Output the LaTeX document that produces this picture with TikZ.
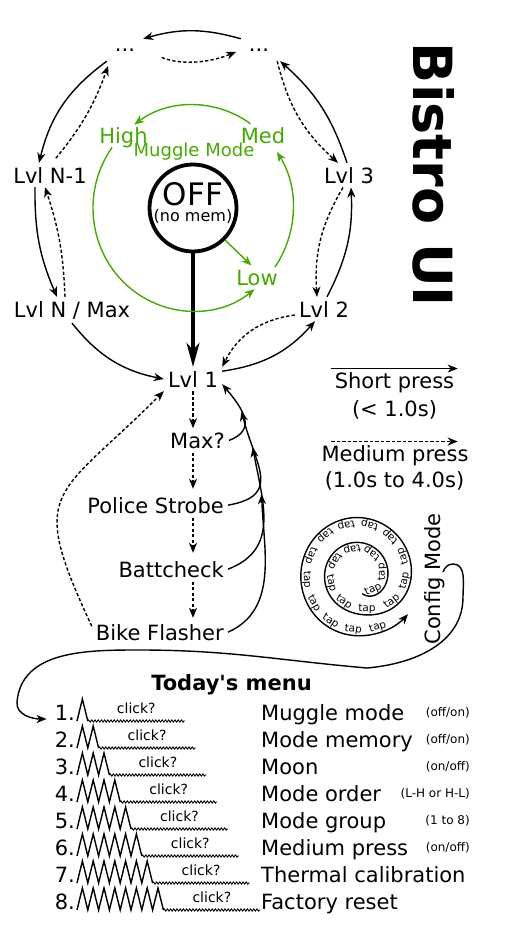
\documentclass[tikz,border=0pt]{standalone}
\usepackage{fontspec}
\setmainfont{DejaVu Sans}
\usetikzlibrary{arrows.meta,decorations.pathmorphing}
\definecolor{muggle}{HTML}{44AA00}

\begin{document}
\begin{tikzpicture}[x=1pt,y=1pt,
  every node/.style={font=\fontsize{21}{25}\selectfont},
  lvl/.style={anchor=base, inner sep=4pt},
  dots/.style={minimum width=36pt, minimum height=22pt, inner sep=0pt},
  mug/.style={anchor=base, inner sep=4pt, text=muggle},
  shortpress/.style={line width=1.4pt, -{Stealth[length=10pt,width=8pt,inset=3pt]}},
  medpress/.style={shortpress, dash pattern=on 3.3pt off 2.2pt},
  muglink/.style={shortpress, draw=muggle},
  small/.style={font=\fontsize{12}{14}\selectfont},
  declare function={spr(\t)=32+0.005*\t-14*exp(-min((\t+74)/35,9))+22/(1+exp(-max(min((\t-310)/22,9),-9)))+6/(1+exp(-max(min((\t-665)/12,9),-9)));}]
\useasboundingbox (0,0) rectangle (518,-931);

\node[rotate=-90, anchor=base, font=\bfseries\fontsize{54}{60}\selectfont] (title) at (413,-175) {Bistro UI};

\node[dots] (dotsL) at (125,-50) {...};
\node[dots] (dotsR) at (259,-50) {...};
\node[lvl] (lvlN1) at (50,-183) {Lvl N-1};
\node[lvl] (lvl3) at (349,-183) {Lvl 3};
\node[lvl] (lvlNmax) at (72,-317) {Lvl N / Max};
\node[lvl] (lvl2) at (324,-317) {Lvl 2};
\node[lvl] (lvl1) at (193,-387) {Lvl 1};

\draw[shortpress] (dotsR.north west) to[bend right=16] (dotsL.north east);
\draw[medpress, shorten <=20pt, shorten >=5pt] (dotsL.east) to[bend right=22] (dotsR.west);
\draw[shortpress] (dotsL.south west) to[bend right=20] ([xshift=-11pt]lvlN1.north);
\draw[medpress, shorten <=6pt, shorten >=5pt] ([xshift=2pt]lvlN1.north) to[bend right=10] ([xshift=3pt]dotsL.south west);
\draw[medpress] (dotsR.south east) to[bend right=17] ([xshift=-11pt]lvl3.north);
\draw[shortpress] ([xshift=-2pt]lvl3.north) to[bend right=15] ([xshift=3pt]dotsR.south east);
\draw[shortpress] ([xshift=-15pt]lvlN1.south) to[bend right=12] ([xshift=-15pt]lvlNmax.north);
\draw[medpress] ([xshift=-7pt]lvlNmax.north) to[bend right=8] ([xshift=-5pt]lvlN1.south);
\draw[medpress] ([xshift=-6pt]lvl3.south) to[bend right=17] ([xshift=-7pt]lvl2.north);
\draw[shortpress] ([xshift=3pt]lvl2.north) to[bend right=15] ([xshift=2pt]lvl3.south);
\draw[shortpress] (lvlNmax.south) to[bend right=20] (lvl1.west);
\draw[shortpress] (lvl1.15) to[bend right=20] ([xshift=-9pt]lvl2.south);
\draw[medpress] ([yshift=-6pt]lvl2.west) to[bend right=28] (lvl1.north east);

\node[draw, circle, line width=3.8pt, minimum size=87pt, inner sep=0pt] (off) at (193,-208) {};
\node[anchor=base, inner sep=0pt, font=\fontsize{31}{35}\selectfont] (offtxt) at ([yshift=2.5pt]off.center) {OFF};
\node[anchor=base, inner sep=0pt, font=\fontsize{16}{18}\selectfont] (offnote) at ([yshift=-13pt]off.center) {(no mem)};
\draw[line width=3.2pt, -{Stealth[length=24pt,width=13pt,inset=7pt]}] (off.south) -- (lvl1.north);

\node[mug] (high) at (123.5,-143) {High};
\node[mug] (med) at (263,-143) {Med};
\node[mug] (low) at (257,-285) {Low};
\node[mug, font=\fontsize{18}{20}\selectfont] (mugmode) at (194,-157) {Muggle Mode};
\draw[muglink] ([shift={(55:100 and 103)}]off.center) arc[start angle=55, end angle=126, x radius=100, y radius=103];
\draw[muglink] ([shift={(144:100 and 103)}]off.center) arc[start angle=144, end angle=308, x radius=100, y radius=103];
\draw[muglink] ([shift={(-35:100 and 103)}]off.center) arc[start angle=-35, end angle=33, x radius=100, y radius=103];
\draw[muglink] (off.-45) -- (low.115);

\node[lvl, anchor=base east] (maxq) at (229,-448) {Max?};
\node[lvl, anchor=base east] (police) at (228,-513) {Police Strobe};
\node[lvl, anchor=base east] (batt) at (228,-577) {Battcheck};
\node[lvl, anchor=base east] (bike) at (228,-640) {Bike Flasher};
\draw[medpress] (lvl1.south) -- (lvl1.south |- maxq.north);
\draw[medpress, shorten >=4pt] (maxq.south -| lvl1) -- (lvl1 |- police.north);
\draw[medpress, shorten >=4pt] (police.south -| lvl1) -- (lvl1 |- batt.north);
\draw[medpress, shorten >=2pt] (batt.south -| lvl1) -- (lvl1 |- bike.north);
\draw[shortpress] (maxq.east) to[out=20, in=-50, looseness=1.4] coordinate[pos=0.6] (onmax) (lvl1.-10);
\draw[shortpress] (police.east) to[out=10, in=-76, looseness=1.5] coordinate[pos=0.75] (onpolice) (onmax);
\draw[shortpress] (batt.east) to[out=21, in=-80, looseness=1.15] coordinate[pos=0.7] (onbatt) (onpolice);
\draw[shortpress] (bike.east) to[out=24, in=-88] (onbatt);
\draw[medpress] ([yshift=6pt]bike.west) to[out=115, in=-135, looseness=1.6] (lvl1.south west);

\node[anchor=base] (shortlbl) at (394.5,-388) {Short press};
\node[anchor=base] (shortdur) at (394.5,-416) {(< 1.0s)};
\node[anchor=base] (medlbl) at (395,-461) {Medium press};
\node[anchor=base] (meddur) at (394.5,-487) {(1.0s to 4.0s)};
\draw[shortpress] (shortlbl.north west) -- (shortlbl.north east);
\draw[medpress] (shortlbl.north west |- medlbl.north) -- (shortlbl.north east |- medlbl.north);

\begin{scope}[shift={(357.5,-576)}]
\draw[shortpress] plot[domain=-74:684, samples=220] ({spr(\x)*cos(\x)}, {1.04*spr(\x)*sin(\x)});
\foreach \th in {-45,8,56,102,148,194,240,284,323,354,382,409,436,463,490,517,544,571,598,625,652} {
  \pgfmathsetmacro\rr{spr(\th)}
  \pgfmathsetmacro\dr{(spr(\th+1)-spr(\th-1))*28.648}
  \pgfmathsetmacro\tang{atan2(1.04*(\dr*sin(\th)+\rr*cos(\th)), \dr*cos(\th)-\rr*sin(\th))}
  \node[rotate=\tang, anchor=south, inner sep=0.8pt, font=\fontsize{10.5}{12}\selectfont] (tap) at ({\rr*cos(\th)},{1.04*\rr*sin(\th)}) {tap};
}
\end{scope}
\node[rotate=90, anchor=base] (cfgmode) at (440,-579) {Config Mode};
\coordinate (cfgtail) at (443,-572);

\node[anchor=base, font=\bfseries\fontsize{21}{25}\selectfont] (menuhdr) at (231.5,-690) {Today\textquotesingle s menu};
\foreach \k/\lbl/\extra in {1/{Muggle mode}/{(off/on)}, 2/{Mode memory}/{(off/on)}, 3/{Moon}/{(on/off)}, 4/{Mode order}/{(L-H or H-L)}, 5/{Mode group}/{(1 to 8)}, 6/{Medium press}/{(on/off)}, 7/{Thermal calibration}/{}, 8/{Factory reset}/{}} {
  \pgfmathsetmacro\yb{-720-27*(\k-1)}
  \node[anchor=base east, inner sep=1pt] (num\k) at (76,\yb) {\k.};
  \node[anchor=base west, inner sep=1pt] (item\k) at (260,\yb) {\lbl};
  \node[anchor=base east, inner sep=1pt, small] (note\k) at (471,\yb+4) {\extra};
  \draw[line width=1.4pt] (77,\yb-1) foreach \i in {1,...,\k} { -- ++(5.4,22) -- ++(5.4,-22) } coordinate (wave\k);
  \draw[line width=0.9pt, decorate, decoration={zigzag, amplitude=1.1pt, segment length=3.2pt}] (wave\k) -- ++(97,0);
  \node[anchor=base, inner sep=1pt, font=\fontsize{14}{16}\selectfont] (click\k) at ([shift={(48.5,8)}]wave\k) {click?};
}

\draw[shortpress] (cfgtail) to[out=70, in=180] (453,-564) to[out=0, in=90] (463,-597) to[out=-90, in=5] (367,-668) to[out=175, in=0] (140,-650) to[out=180, in=85] (17,-702) to[out=-95, in=180] ([shift={(-7pt,1pt)}]num1.base west);
\end{tikzpicture}
\end{document}
